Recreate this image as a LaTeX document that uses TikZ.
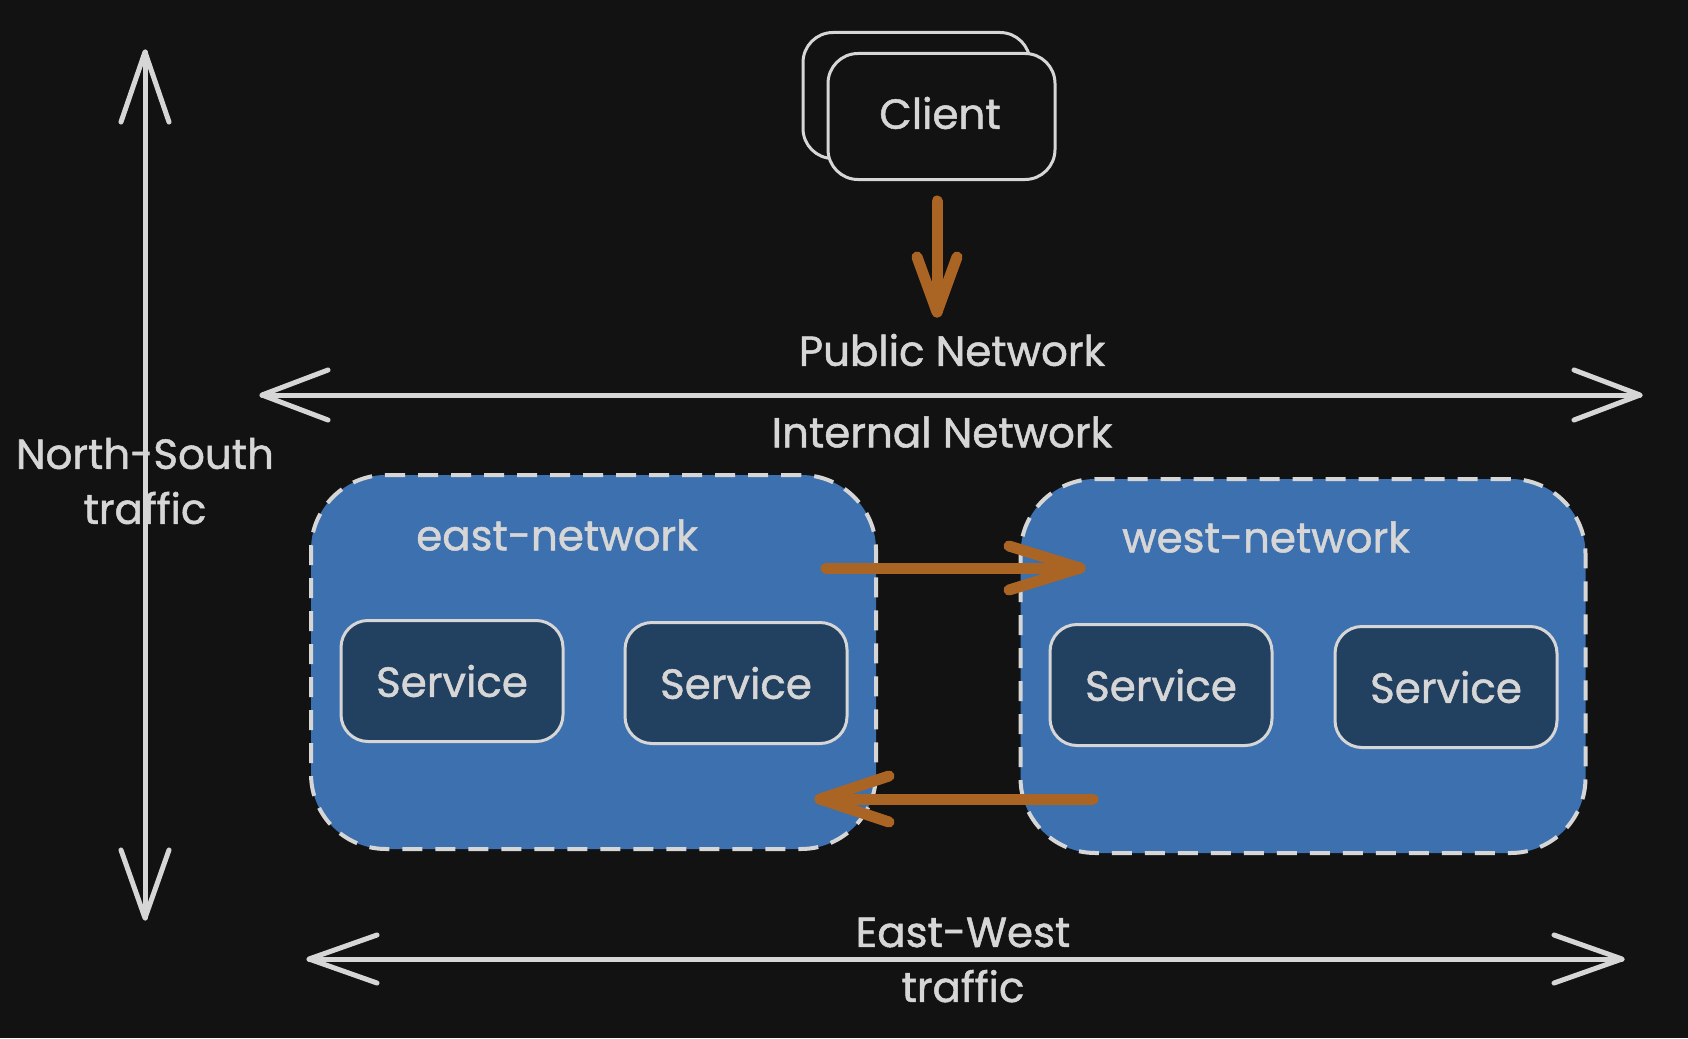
\documentclass[tikz,border=0pt]{standalone}
\usepackage{fontspec}
\setmainfont{Poppins}[FakeBold=1.2]
\definecolor{bg}{HTML}{121212}
\definecolor{fg}{HTML}{D6D6D6}
\definecolor{cblue}{HTML}{3D70AF}
\definecolor{sblue}{HTML}{224060}
\definecolor{orng}{HTML}{AA6423}
\begin{document}
\begin{tikzpicture}[x=1pt,y=-1pt,
  txt/.style={text=fg, font=\fontsize{42}{55}\selectfont, inner sep=0pt, align=center},
  grayline/.style={draw=fg, line width=5pt, line cap=round, line join=round},
  orangeline/.style={draw=orng, line width=11pt, line cap=round, line join=round},
  container/.style={fill=cblue, draw=fg, line width=4pt, dash pattern=on 20pt off 13pt, rounded corners=75pt, minimum width=565pt, minimum height=374pt, inner sep=0pt},
  svc/.style={txt, fill=sblue, draw=fg, line width=3pt, rounded corners=27pt, minimum width=222pt, minimum height=121pt},
  clientbox/.style={fill=bg, draw=fg, line width=3pt, rounded corners=30pt, minimum width=227pt, minimum height=126pt, inner sep=0pt},
]
\fill[bg] (0,0) rectangle (1688,1038);
\useasboundingbox (0,0) rectangle (1688,1038);

% containers
\node[container] (east) at (593.5,662) {};
\node[container] (west) at (1303,666) {};
\node[txt] (eastlbl) at (557,535) {east-network};
\node[txt] (westlbl) at (1266,537) {west-network};

% services
\node[svc] (e1) at (452,681) {Service};
\node[svc] (e2) at (736,683) {Service};
\node[svc] (w1) at (1161,685) {Service};
\node[svc] (w2) at (1446,687) {Service};

% client
\node[clientbox] (clientback) at (916.5,95.5) {};
\node[clientbox] (client) at (941.5,116.5) {};
\node[txt] (clientlbl) at (940,113) {Client};

% client arrow
\coordinate (ctip) at (937,312);
\draw[orangeline] ([yshift=-20pt]client.south -| ctip) -- (ctip);
\draw[orangeline] ([xshift=-20pt,yshift=55pt]ctip) -- (ctip) -- ([xshift=20pt,yshift=55pt]ctip);

% east -> west
\coordinate (ewS) at (826,568);
\coordinate (ewT) at (1080,568);
\draw[orangeline] (ewS) -- (ewT);
\draw[orangeline] ([xshift=-71pt,yshift=22pt]ewT) -- (ewT) -- ([xshift=-71pt,yshift=-22pt]ewT);

% west -> east
\coordinate (weS) at (1093,799);
\coordinate (weT) at (820,799);
\draw[orangeline] (weS) -- (weT);
\draw[orangeline] ([xshift=69pt,yshift=23pt]weT) -- (weT) -- ([xshift=69pt,yshift=-23pt]weT);

% public / internal network line
\coordinate (pnL) at (262,395);
\coordinate (pnR) at (1640,395);
\draw[grayline] (pnL) -- (pnR);
\draw[grayline] ([xshift=66pt,yshift=25pt]pnL) -- (pnL) -- ([xshift=66pt,yshift=-25pt]pnL);
\draw[grayline] ([xshift=-66pt,yshift=25pt]pnR) -- (pnR) -- ([xshift=-66pt,yshift=-25pt]pnR);
\node[txt] (publbl) at (952,350) {Public Network};
\node[txt] (intlbl) at (942,432) {Internal Network};

% north-south
\coordinate (nsT) at (145,52);
\coordinate (nsB) at (145,918);
\draw[grayline] (nsT) -- (nsB);
\draw[grayline] ([xshift=-24pt,yshift=-70pt]nsT) -- (nsT) -- ([xshift=24pt,yshift=-70pt]nsT);
\draw[grayline] ([xshift=-24pt,yshift=68pt]nsB) -- (nsB) -- ([xshift=24pt,yshift=68pt]nsB);
\node[txt] (nslbl) at (145,481) {North-South\\traffic};

% east-west
\coordinate (ewL) at (309,959);
\coordinate (ewR) at (1622,959);
\draw[grayline] (ewL) -- (ewR);
\draw[grayline] ([xshift=68pt,yshift=24pt]ewL) -- (ewL) -- ([xshift=68pt,yshift=-24pt]ewL);
\draw[grayline] ([xshift=-68pt,yshift=24pt]ewR) -- (ewR) -- ([xshift=-68pt,yshift=-24pt]ewR);
\node[txt] (ewlbl) at (963,960) {East-West\\traffic};
\end{tikzpicture}
\end{document}
